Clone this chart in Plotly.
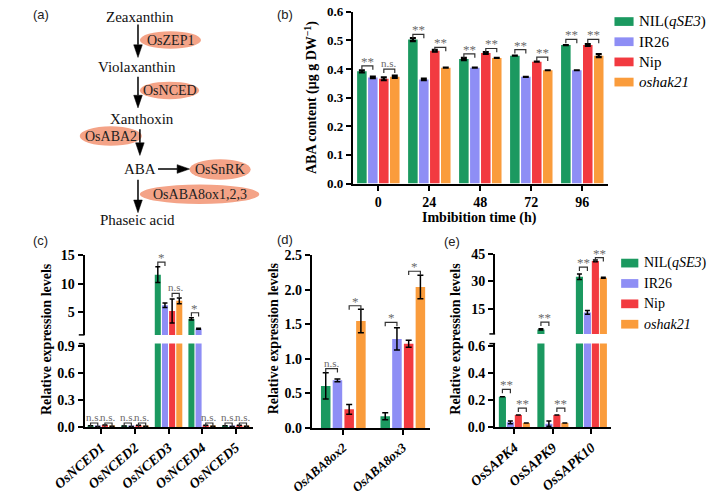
import plotly.graph_objects as go

W, H = 709, 501
FONT = "Liberation Serif"

# ---------------- data ----------------
series = ["NIL(qSE3)", "IR26", "Nip", "oshak21"]
series_html = ["NIL(<i>qSE3</i>)", "IR26", "Nip", "<i>oshak21</i>"]
colors = ["#1b9960", "#8e8ef5", "#f23a40", "#fa9c3c"]

# (b) ABA content
b_times = ["0", "24", "48", "72", "96"]
b_nil = [0.392, 0.503, 0.435, 0.447, 0.484]
b_ir26 = [0.371, 0.364, 0.405, 0.373, 0.396]
b_nip = [0.366, 0.464, 0.456, 0.426, 0.484]
b_hak = [0.373, 0.405, 0.439, 0.396, 0.447]
b_err_nil = [0.004, 0.005, 0.004, None, None]
b_err_ir26 = [0.003, 0.003, None, None, None]
b_err_nip = [0.005, 0.003, 0.003, None, 0.003]
b_err_hak = [0.004, None, None, None, 0.005]
b_brk_cat = [0, 0, 1, 1, 2, 2, 3, 3, 4, 4]
b_brk_pair = ["gb", "ro"] * 5
b_brk_y = [0.411, 0.400, 0.521, 0.476, 0.453, 0.472, 0.468, 0.442, 0.504, 0.504]
b_brk_txt = ["**", "n.s.", "**", "**", "**", "**", "**", "**", "**", "**"]

# (c) OsNCED
c_genes = ["OsNCED1", "OsNCED2", "OsNCED3", "OsNCED4", "OsNCED5"]
c_nil = [0.015, 0.012, 11.6, 3.8, 0.015]
c_ir26 = [0.005, 0.006, 6.2, 2.07, 0.005]
c_nip = [0.022, 0.02, 5.2, 0.02, 0.02]
c_hak = [0.01, 0.01, 7.0, 0.01, 0.01]
c_err_nil = [None, None, 1.4, 0.2, None]
c_err_ir26 = [None, None, 0.4, 0.1, None]
c_err_nip = [None, None, 2.1, None, None]
c_err_hak = [None, None, 0.5, None, None]
c_brk_cat = [0, 0, 1, 1, 2, 2, 3, 3, 4, 4]
c_brk_pair = ["gb", "ro"] * 5
c_brk_seg = ["lo", "lo", "lo", "lo", "up", "up", "up", "lo", "lo", "lo"]
c_brk_y = [0.045, 0.045, 0.045, 0.045, 13.8, 8.3, 4.9, 0.045, 0.045, 0.045]
c_brk_txt = ["n.s.", "n.s.", "n.s.", "n.s.", "*", "n.s.", "*", "n.s.", "n.s.", "n.s."]

# (d) OsABA8ox
d_genes = ["OsABA8ox2", "OsABA8ox3"]
d_nil = [0.61, 0.17]
d_ir26 = [0.69, 1.29]
d_nip = [0.27, 1.22]
d_hak = [1.55, 2.04]
d_err_nil = [0.19, 0.05]
d_err_ir26 = [0.02, 0.16]
d_err_nip = [0.07, 0.05]
d_err_hak = [0.17, 0.17]
d_brk_cat = [0, 0, 1, 1]
d_brk_pair = ["gb", "ro", "gb", "ro"]
d_brk_y = [0.86, 1.77, 1.53, 2.27]
d_brk_txt = ["n.s.", "*", "*", "*"]

# (e) OsSAPK
e_genes = ["OsSAPK4", "OsSAPK9", "OsSAPK10"]
e_nil = [0.225, 3.5, 32.6]
e_ir26 = [0.035, 0.025, 12.9]
e_nip = [0.09, 0.09, 41.4]
e_hak = [0.03, 0.03, 32.1]
e_err_nil = [None, 0.3, 1.5]
e_err_ir26 = [0.01, 0.02, 1.0]
e_err_nip = [None, None, 0.5]
e_err_hak = [None, None, 0.3]
e_brk_cat = [0, 0, 1, 1, 2, 2]
e_brk_pair = ["gb", "ro", "gb", "ro", "gb", "ro"]
e_brk_seg = ["lo", "lo", "up", "lo", "up", "up"]
e_brk_y = [0.28, 0.14, 7.5, 0.14, 37.9, 43.2]
e_brk_txt = ["**", "**", "**", "**", "**", "**"]

# (a) pathway
path_compounds = ["Zeaxanthin", "Violaxanthin", "Xanthoxin", "ABA", "Phaseic acid"]
path_enzymes = ["OsZEP1", "OsNCED", "OsABA2", "OsSnRK", "OsABA8ox1,2,3"]

# ---------------- helpers ----------------
def px(x):
    return x / W


def py(y):
    return 1 - y / H


def dom_x(a, b):
    return [a / W, b / W]


def dom_y(top, bottom):
    return [1 - bottom / H, 1 - top / H]


fig = go.Figure()

axis_common = dict(showline=True, linecolor="black", linewidth=2, ticks="outside",
                   ticklen=5, tickwidth=1.5, tickcolor="black", showgrid=False,
                   zeroline=False, fixedrange=True)


def add_bars(xa, ya, n, vals, errs, slot, w, eth, ew):
    for i, (v, e) in enumerate(zip(vals, errs)):
        fig.add_trace(go.Bar(
            x=list(range(n)), y=v, width=w, offset=(i - 2) * slot + (slot - w) / 2,
            marker=dict(color=colors[i], line=dict(width=0)),
            error_y=dict(type="data", array=e, visible=True, color="black",
                         thickness=eth, width=ew),
            xaxis=xa, yaxis=ya, showlegend=False, name=series[i], hoverinfo="skip"))


def add_brackets(xa, ya, cats, pairs, levels, labels, slot, ppu, tick_px=4):
    for c, p, lv, lb in zip(cats, pairs, levels, labels):
        i, j = (0, 1) if p == "gb" else (2, 3)
        x1 = c + (i - 1.5) * slot
        x2 = c + (j - 1.5) * slot
        d = tick_px / ppu
        fig.add_trace(go.Scatter(
            x=[x1, x1, x2, x2], y=[lv - d, lv, lv, lv - d], mode="lines",
            line=dict(color="#333333", width=1.2), xaxis=xa, yaxis=ya,
            showlegend=False, hoverinfo="skip", cliponaxis=False))
        ast = lb.startswith("*")
        fig.add_annotation(
            x=(x1 + x2) / 2, y=lv, xref=xa, yref=ya, text=lb, showarrow=False,
            yanchor="bottom", yshift=-5 if ast else -2,
            font=dict(family=FONT, size=13 if ast else 11, color="#6a6a6a"))


# ---------------- panel (b) ----------------
b_slot, b_w = 0.215, 0.187
add_bars("x", "y", len(b_times), [b_nil, b_ir26, b_nip, b_hak],
         [b_err_nil, b_err_ir26, b_err_nip, b_err_hak], b_slot, b_w, 2.2, 3)
add_brackets("x", "y", b_brk_cat, b_brk_pair, b_brk_y, b_brk_txt, b_slot, 177 / 0.6)

# ---------------- panel (c) ----------------
c_slot, c_w = 0.213, 0.18
c_vals = [c_nil, c_ir26, c_nip, c_hak]
c_errs = [c_err_nil, c_err_ir26, c_err_nip, c_err_hak]
add_bars("x2", "y2", len(c_genes), c_vals, c_errs, c_slot, c_w, 1.5, 2.5)
add_bars("x3", "y3", len(c_genes), c_vals, c_errs, c_slot, c_w, 1.5, 2.5)
for seg, xa, ya, ppu in [("lo", "x2", "y2", 86 / 0.93), ("up", "x3", "y3", 82 / 14)]:
    idx = [k for k, s in enumerate(c_brk_seg) if s == seg]
    add_brackets(xa, ya, [c_brk_cat[k] for k in idx], [c_brk_pair[k] for k in idx],
                 [c_brk_y[k] for k in idx], [c_brk_txt[k] for k in idx], c_slot, ppu)

# ---------------- panel (d) ----------------
d_slot, d_w = 0.197, 0.16
add_bars("x4", "y4", len(d_genes), [d_nil, d_ir26, d_nip, d_hak],
         [d_err_nil, d_err_ir26, d_err_nip, d_err_hak], d_slot, d_w, 1.5, 3)
add_brackets("x4", "y4", d_brk_cat, d_brk_pair, d_brk_y, d_brk_txt, d_slot, 178 / 2.5)

# ---------------- panel (e) ----------------
e_slot, e_w = 0.207, 0.185
e_vals = [e_nil, e_ir26, e_nip, e_hak]
e_errs = [e_err_nil, e_err_ir26, e_err_nip, e_err_hak]
add_bars("x5", "y5", len(e_genes), e_vals, e_errs, e_slot, e_w, 1.5, 2.5)
add_bars("x6", "y6", len(e_genes), e_vals, e_errs, e_slot, e_w, 1.5, 2.5)
for seg, xa, ya, ppu in [("lo", "x5", "y5", 86 / 0.62), ("up", "x6", "y6", 82 / 44)]:
    idx = [k for k, s in enumerate(e_brk_seg) if s == seg]
    add_brackets(xa, ya, [e_brk_cat[k] for k in idx], [e_brk_pair[k] for k in idx],
                 [e_brk_y[k] for k in idx], [e_brk_txt[k] for k in idx], e_slot, ppu)

# ---------------- axes ----------------
tick_b = dict(family=FONT, size=13, color="black", weight="bold")
tick_g = dict(family=FONT, size=14, color="black", weight="bold")


def gene_ticks(genes, size):
    return dict(tickmode="array", tickvals=list(range(len(genes))), ticktext=genes,
                tickangle=-41,
                tickfont=dict(family=FONT, size=size, color="black", weight="bold",
                              style="italic"))


fig.update_layout(
    width=W, height=H, margin=dict(l=0, r=0, t=0, b=0),
    paper_bgcolor="white", plot_bgcolor="white", barmode="overlay", showlegend=False,
    xaxis=dict(axis_common, domain=dom_x(336, 603), range=[-0.5, 4.5], anchor="y",
               tickmode="array", tickvals=list(range(len(b_times))), ticktext=b_times,
               tickfont=dict(tick_b, size=14)),
    yaxis=dict(axis_common, domain=dom_y(5, 182), range=[0, 0.6], anchor="x",
               tickvals=[0, 0.1, 0.2, 0.3, 0.4, 0.5, 0.6], tickformat=".1f", tickfont=tick_b),
    xaxis2=dict(axis_common, domain=dom_x(55, 231), range=[-0.5, 4.5], anchor="y2",
                **gene_ticks(c_genes, 14)),
    yaxis2=dict(axis_common, domain=dom_y(347, 433), range=[0, 0.93], anchor="x2",
                tickvals=[0, 0.3, 0.6, 0.9], tickformat=".1f", tickfont=tick_g),
    xaxis3=dict(domain=dom_x(55, 231), range=[-0.5, 4.5], anchor="y3", visible=False,
                fixedrange=True),
    yaxis3=dict(axis_common, domain=dom_y(256, 338), range=[1, 15], anchor="x3",
                tickvals=[5, 10, 15], tickfont=tick_g),
    xaxis4=dict(axis_common, domain=dom_x(293, 417), range=[-0.53, 1.46], anchor="y4",
                **gene_ticks(d_genes, 13)),
    yaxis4=dict(axis_common, domain=dom_y(256, 434), range=[0, 2.5], anchor="x4",
                tickvals=[0, 0.5, 1.0, 1.5, 2.0, 2.5], tickformat=".1f", tickfont=tick_g),
    xaxis5=dict(axis_common, domain=dom_x(485, 606), range=[-0.5, 2.5], anchor="y5",
                **gene_ticks(e_genes, 14)),
    yaxis5=dict(axis_common, domain=dom_y(347, 433), range=[0, 0.62], anchor="x5",
                tickvals=[0, 0.2, 0.4, 0.6], tickformat=".1f", tickfont=tick_g),
    xaxis6=dict(domain=dom_x(485, 606), range=[-0.5, 2.5], anchor="y6", visible=False,
                fixedrange=True),
    yaxis6=dict(axis_common, domain=dom_y(255, 337), range=[1, 45], anchor="x6",
                tickvals=[15, 30, 45], tickfont=tick_g),
)

# axis-break end marks (short outward ticks at the cut ends of broken axes)
for ax_x, y_end in [(55, 338), (55, 347), (485, 337), (485, 347)]:
    fig.add_shape(type="line", xref="paper", yref="paper", x0=px(ax_x - 6), x1=px(ax_x),
                  y0=py(y_end), y1=py(y_end), line=dict(color="black", width=1.5))

# ---------------- titles ----------------
def ann(x, y, text, size=14, bold=True, angle=0, xanchor="center", color="black",
        family=FONT):
    fig.add_annotation(x=px(x), y=py(y), xref="paper", yref="paper", text=text,
                       showarrow=False, textangle=angle, xanchor=xanchor, yanchor="middle",
                       font=dict(family=family, size=size, color=color,
                                 weight="bold" if bold else "normal"))


ann(292, 93, "ABA content (μg g DW<sup>−1</sup>)", size=14, angle=-90)
ann(469, 218, "Imbibition time (h)", size=14)
ann(15, 342, "Relative expression levels", size=14, angle=-90)
ann(253, 342, "Relative expression levels", size=14, angle=-90)
ann(444, 342, "Relative expression levels", size=14, angle=-90)

for lbl, x, y in [("(a)", 9, 8), ("(b)", 265, 8), ("(c)", 9, 241), ("(d)", 265, 240),
                  ("(e)", 440, 242)]:
    ann(x, y, lbl, size=13, bold=False, family="Liberation Sans", color="#222")

# ---------------- legends ----------------
for (lx, ly0, dy, bw, fs) in [(610, 15, 20.8, 20, 15), (617, 264, 21, 18, 14)]:
    for i, name in enumerate(series_html):
        yc = ly0 + i * dy
        fig.add_shape(type="rect", xref="paper", yref="paper",
                      x0=px(lx), x1=px(lx + bw), y0=py(yc + 4.5), y1=py(yc - 4.5),
                      fillcolor=colors[i], line=dict(width=0))
        ann(lx + bw + 4, yc, name, size=fs, bold=False, xanchor="left")

# ---------------- panel (a) pathway ----------------
comp_pos = [(113, 10), (110, 62), (115, 115), (113, 167), (110, 220)]
for name, (x, y) in zip(path_compounds, comp_pos):
    ann(x, y, name, size=15, bold=False, color="#111")

ell = [(113, 177, 25, 43), (113, 175, 77, 95), (50, 115, 123, 143),
       (165, 229, 157, 178), (113, 238, 183, 203)]
for (x0, x1, y0, y1) in ell:
    fig.add_shape(type="circle", xref="paper", yref="paper", x0=px(x0), x1=px(x1),
                  y0=py(y1), y1=py(y0), fillcolor="#f4a387", line=dict(width=0),
                  layer="below")
for name, (x0, x1, y0, y1) in zip(path_enzymes, ell):
    ann((x0 + x1) / 2, (y0 + y1) / 2 + 0.5, name, size=14, bold=False, color="#222")

# arrows drawn as shapes: (tail_x, tail_y, tip_x, tip_y)
arrows = [(111, 18, 111, 52), (111, 72, 111, 104), (113, 126, 113, 153),
          (132, 167, 165, 167), (111, 178, 111, 212)]
HL, HW = 13, 4.5
for x0, y0, x1, y1 in arrows:
    dx, dy = x1 - x0, y1 - y0
    L = (dx * dx + dy * dy) ** 0.5
    ux, uy = dx / L, dy / L
    bx, by = x1 - ux * HL, y1 - uy * HL
    fig.add_shape(type="line", xref="paper", yref="paper", x0=px(x0), y0=py(y0),
                  x1=px(bx), y1=py(by), line=dict(color="black", width=1.5))
    p1 = (bx - uy * HW, by + ux * HW)
    p2 = (bx + uy * HW, by - ux * HW)
    path = (f"M {px(x1)} {py(y1)} L {px(p1[0])} {py(p1[1])} "
            f"L {px(p2[0])} {py(p2[1])} Z")
    fig.add_shape(type="path", xref="paper", yref="paper", path=path,
                  fillcolor="black", line=dict(color="black", width=0.5))

fig.write_html("out.html", config={"displayModeBar": False},
               post_script="document.body.style.margin='0';")
